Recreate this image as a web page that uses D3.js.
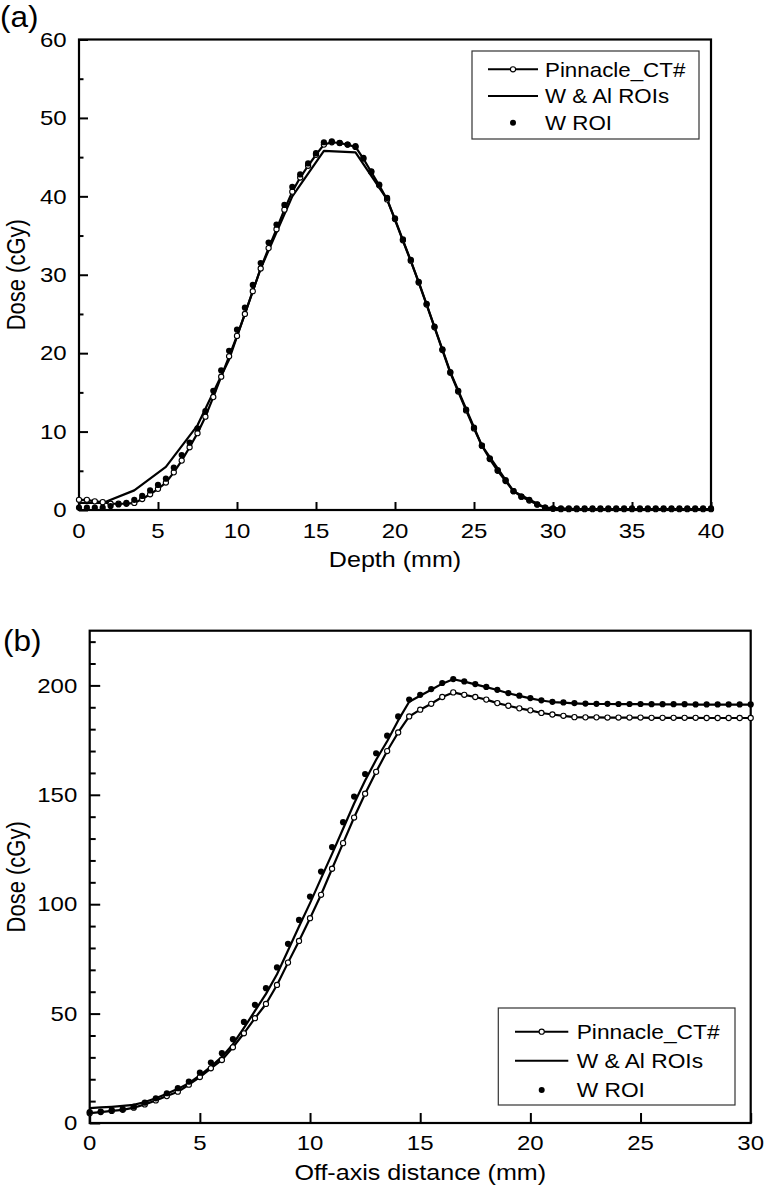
<!DOCTYPE html>
<html><head><meta charset="utf-8">
<script src="https://cdn.jsdelivr.net/npm/d3@7"></script>
<style>
html,body{margin:0;padding:0;background:#fff;}
svg text{font-family:"Liberation Sans",Arial,Helvetica,sans-serif;fill:#000;}
</style></head>
<body>
<svg id="chart" width="764" height="1189"></svg>
<script>
// ---------- Panel (a) data : depth-dose ----------
const depthA = [0,0.5,1,1.5,2,2.5,3,3.5,4,4.5,5,5.5,6,6.5,7,7.5,8,8.5,9,9.5,
  10,10.5,11,11.5,12,12.5,13,13.5,14,14.5,15,15.5,16,16.5,17,17.5,18,18.5,19,19.5,
  20,20.5,21,21.5,22,22.5,23,23.5,24,24.5,25,25.5,26,26.5,27,27.5,28,28.5,29,29.5,
  30,30.5,31,31.5,32,32.5,33,33.5,34,34.5,35,35.5,36,36.5,37,37.5,38,38.5,39,39.5,40];
const pinnacleA = [1.3,1.3,1.1,1.0,0.8,0.8,0.8,0.9,1.4,2.0,2.7,3.5,4.8,6.3,8.0,9.8,11.9,14.4,17.0,19.6,
  22.2,25.0,27.9,30.8,33.4,35.8,38.3,40.6,42.4,43.9,45.3,46.6,46.9,46.8,46.6,46.3,44.8,43.1,41.4,39.6,
  37.1,34.4,31.8,29.0,26.2,23.3,20.4,17.5,15.1,12.7,10.4,8.2,6.5,5.0,3.7,2.4,1.7,1.2,0.7,0.3,
  0.15,0.1,0.1,0.1,0.1,0.1,0.1,0.1,0.1,0.1,0.1,0.1,0.1,0.1,0.1,0.1,0.1,0.1,0.1,0.1,0.1];
const wRoiA = [0.3,0.3,0.3,0.3,0.5,0.7,0.9,1.3,1.8,2.5,3.2,4.0,5.4,7.0,8.6,10.4,12.6,15.2,17.8,20.3,
  23.0,25.8,28.7,31.5,34.1,36.4,38.9,41.2,42.8,44.2,45.5,46.9,47.0,46.8,46.6,46.4,44.9,43.2,41.5,39.8,
  37.2,34.5,31.9,29.1,26.3,23.4,20.5,17.6,15.2,12.8,10.5,8.2,6.6,5.1,3.8,2.4,1.7,1.3,0.7,0.3,
  0.2,0.2,0.2,0.2,0.2,0.2,0.2,0.2,0.2,0.2,0.2,0.2,0.2,0.2,0.2,0.2,0.2,0.2,0.2,0.2,0.2];
const depthWAlA = [0,1.5,3.5,5.5,7.5,9.5,11.5,13.5,15.5,17.5,19.5,21.5,23.5,25.5,27.5,29.5,31.5,33.5,35.5,37.5,39.5];
const wAlA = [0.9,0.9,2.5,5.5,10.8,19.2,30.8,40.0,45.8,45.6,39.6,29.1,17.6,8.2,2.4,0.3,0.1,0.1,0.1,0.1,0.1];
const xTicksA = [0,5,10,15,20,25,30,35,40];
const yTicksA = [0,10,20,30,40,50,60];
const yMinorA = [5,15,25,35,45,55];

// ---------- Panel (b) data : off-axis profile ----------
const offB = [0,0.5,1,1.5,2,2.5,3,3.5,4,4.5,5,5.5,6,6.5,7,7.5,8,8.5,9,9.5,
  10,10.5,11,11.5,12,12.5,13,13.5,14,14.5,15,15.5,16,16.5,17,17.5,18,18.5,19,19.5,
  20,20.5,21,21.5,22,22.5,23,23.5,24,24.5,25,25.5,26,26.5,27,27.5,28,28.5,29,29.5,30];
const pinnacleB = [4.5,5.0,5.5,6.0,7.0,8.5,10.3,12.3,14.3,17.5,
  21.0,25.0,28.8,34.6,41.0,47.9,54.4,63.1,73.3,83.2,
  93.6,104.3,116.2,127.9,139.6,150.5,160.5,170.0,178.5,185.8,
  188.9,191.6,194.7,196.8,195.7,194.7,193.5,191.9,190.7,189.5,
  188.6,187.4,186.7,186.1,185.5,185.4,185.4,185.3,185.3,185.3,
  185.3,185.2,185.2,185.2,185.2,185.2,185.1,185.1,185.1,185.1,185.1];
const wRoiB = [5.0,5.2,5.9,6.4,7.5,9.3,11.3,13.6,15.9,18.9,
  23.0,27.6,31.9,38.3,46.2,54.0,61.6,71.1,81.9,92.8,
  103.5,114.9,126.1,137.5,149.2,159.5,169.0,177.0,185.8,193.5,
  195.7,198.3,201.1,202.9,201.8,200.6,199.3,198.0,196.5,195.3,
  194.2,193.2,192.5,192.2,191.9,191.7,191.6,191.6,191.5,191.5,
  191.5,191.4,191.4,191.4,191.4,191.3,191.3,191.3,191.3,191.3,191.3];
const wAlB = [6.8,7.1,7.4,7.8,8.3,9.6,11.3,13.4,15.6,18.2,
  21.8,25.8,30.2,36.0,43.5,51.2,59.0,68.0,78.8,89.8,
  100.5,111.8,123.0,134.5,146.0,156.5,166.0,174.5,184.0,192.5,
  195.3,198.0,200.8,202.8,201.7,200.5,199.2,197.9,196.4,195.2,
  194.1,193.1,192.4,192.1,191.8,191.6,191.5,191.5,191.4,191.4,
  191.4,191.3,191.3,191.3,191.3,191.2,191.2,191.2,191.2,191.2,191.2];
const xTicksB = [0,5,10,15,20,25,30];
const yTicksB = [0,50,100,150,200];
const yMinorB = [10,20,30,40,60,70,80,90,110,120,130,140,160,170,180,190,210,220];

const legendLabels = ["Pinnacle_CT#", "W & Al ROIs", "W ROI"];

// ---------- drawing ----------
const svg = d3.select("#chart");

function stext(g, x, y, str, size, sx, anchor) {
  return g.append("text")
    .attr("transform", `translate(${x},${y}) scale(${sx},1)`)
    .attr("text-anchor", anchor || "start")
    .attr("font-size", size)
    .text(str);
}

function panel(cfg) {
  const g = svg.append("g");
  const x = d3.scaleLinear().domain(cfg.xDomain).range([cfg.left, cfg.right]);
  const y = d3.scaleLinear().domain(cfg.yDomain).range([cfg.bottom, cfg.top]);

  // frame
  g.append("rect").attr("x", cfg.left).attr("y", cfg.top)
    .attr("width", cfg.right - cfg.left).attr("height", cfg.bottom - cfg.top)
    .attr("fill", "none").attr("stroke", "#000").attr("stroke-width", 2.2);

  // x axis ticks (inward)
  const xa = g.append("g").attr("transform", `translate(0,${cfg.bottom})`)
    .call(d3.axisBottom(x).tickValues(cfg.xTicks).tickSizeInner(-cfg.xTickLen).tickSizeOuter(0).tickFormat(""));
  xa.select(".domain").remove();
  xa.selectAll("line").attr("stroke", "#000").attr("stroke-width", 2);

  // y axis major + minor
  const ya = g.append("g").attr("transform", `translate(${cfg.left},0)`)
    .call(d3.axisLeft(y).tickValues(cfg.yTicks).tickSizeInner(-cfg.yTickLen).tickSizeOuter(0).tickFormat(""));
  ya.select(".domain").remove();
  ya.selectAll("line").attr("stroke", "#000").attr("stroke-width", 2);
  const ym = g.append("g").attr("transform", `translate(${cfg.left},0)`)
    .call(d3.axisLeft(y).tickValues(cfg.yMinor).tickSizeInner(-cfg.yMinorLen).tickSizeOuter(0).tickFormat(""));
  ym.select(".domain").remove();
  ym.selectAll("line").attr("stroke", "#000").attr("stroke-width", 2);

  // tick labels
  cfg.xTicks.forEach(v => stext(g, x(v), cfg.xLabelBase, String(v), cfg.tickSize, cfg.tickSx, "middle"));
  cfg.yTicks.forEach(v => stext(g, cfg.yLabelRight, y(v) + 0.36 * cfg.tickSize, String(v), cfg.tickSize, cfg.tickSx, "end"));

  // axis titles
  stext(g, (cfg.left + cfg.right) / 2, cfg.xTitleBase, cfg.xTitle, cfg.titleSize, cfg.titleSx, "middle");
  g.append("text")
    .attr("transform", `translate(${cfg.yTitleX},${(cfg.top + cfg.bottom) / 2}) rotate(-90) scale(1,1.15)`)
    .attr("text-anchor", "middle").attr("font-size", cfg.yTitleSize)
    .text("Dose (cGy)");

  // panel label
  stext(g, cfg.labelX, cfg.labelBase, cfg.label, cfg.labelSize, 1.05, "start");

  // series
  const line = (xs, ys) => d3.line().x((d, i) => x(xs[i])).y(d => y(d))(ys);
  g.append("path").attr("d", line(cfg.wAlX, cfg.wAl))
    .attr("fill", "none").attr("stroke", "#000").attr("stroke-width", 2.2).attr("stroke-linejoin", "round");
  g.append("path").attr("d", line(cfg.pinX, cfg.pin))
    .attr("fill", "none").attr("stroke", "#000").attr("stroke-width", 2.2).attr("stroke-linejoin", "round");
  g.append("g").selectAll("circle").data(cfg.pin).join("circle")
    .attr("cx", (d, i) => x(cfg.pinX[i])).attr("cy", d => y(d)).attr("r", 2.6)
    .attr("fill", "#fff").attr("stroke", "#000").attr("stroke-width", 1.1);
  g.append("g").selectAll("circle").data(cfg.wRoi).join("circle")
    .attr("cx", (d, i) => x(cfg.wRoiX[i])).attr("cy", d => y(d)).attr("r", 3.1)
    .attr("fill", "#000");

  // legend
  const L = cfg.legend;
  g.append("rect").attr("x", L.x).attr("y", L.y).attr("width", L.w).attr("height", L.h)
    .attr("fill", "#fff").attr("stroke", "#333").attr("stroke-width", 1.2);
  L.rows.forEach((ry, i) => {
    if (i < 2) {
      g.append("line").attr("x1", L.lx1).attr("x2", L.lx2).attr("y1", ry).attr("y2", ry)
        .attr("stroke", "#000").attr("stroke-width", 2);
    }
    if (i === 0) {
      g.append("circle").attr("cx", L.mx).attr("cy", ry).attr("r", 2.6)
        .attr("fill", "#fff").attr("stroke", "#000").attr("stroke-width", 1.1);
    }
    if (i === 2) {
      g.append("circle").attr("cx", L.mx).attr("cy", ry).attr("r", 3).attr("fill", "#000");
    }
    stext(g, L.tx, ry + 7.3, legendLabels[i], L.size, L.sx, "start");
  });
}

panel({
  left: 79, right: 711, top: 39.5, bottom: 510,
  xDomain: [0, 40], yDomain: [0, 60],
  xTicks: xTicksA, yTicks: yTicksA, yMinor: yMinorA,
  xTickLen: 8, yTickLen: 9, yMinorLen: 4.5,
  tickSize: 20, tickSx: 1.2, xLabelBase: 537.6, yLabelRight: 66.7,
  xTitle: "Depth (mm)", xTitleBase: 567, titleSize: 22, titleSx: 1.14,
  yTitleX: 25, yTitleSize: 22,
  label: "(a)", labelX: 0, labelBase: 27, labelSize: 30,
  pinX: depthA, pin: pinnacleA, wRoiX: depthA, wRoi: wRoiA, wAlX: depthWAlA, wAl: wAlA,
  legend: { x: 472, y: 51, w: 227, h: 88, rows: [69.3, 96, 122.7], lx1: 488, lx2: 538, mx: 513, tx: 545, size: 20.5, sx: 1.09 }
});

panel({
  left: 89.7, right: 750.7, top: 630.7, bottom: 1123,
  xDomain: [0, 30], yDomain: [0, 225],
  xTicks: xTicksB, yTicks: yTicksB, yMinor: yMinorB,
  xTickLen: 10, yTickLen: 10.5, yMinorLen: 6,
  tickSize: 20, tickSx: 1.2, xLabelBase: 1150, yLabelRight: 77.3,
  xTitle: "Off-axis distance (mm)", xTitleBase: 1180, titleSize: 22, titleSx: 1.14,
  yTitleX: 25, yTitleSize: 22,
  label: "(b)", labelX: 3, labelBase: 651, labelSize: 30,
  pinX: offB, pin: pinnacleB, wRoiX: offB, wRoi: wRoiB, wAlX: offB, wAl: wAlB,
  legend: { x: 498.3, y: 1008, w: 236.7, h: 97, rows: [1031.7, 1060.7, 1090], lx1: 515, lx2: 568.3, mx: 541.7, tx: 576.7, size: 20.5, sx: 1.11 }
});
</script>
</body></html>
